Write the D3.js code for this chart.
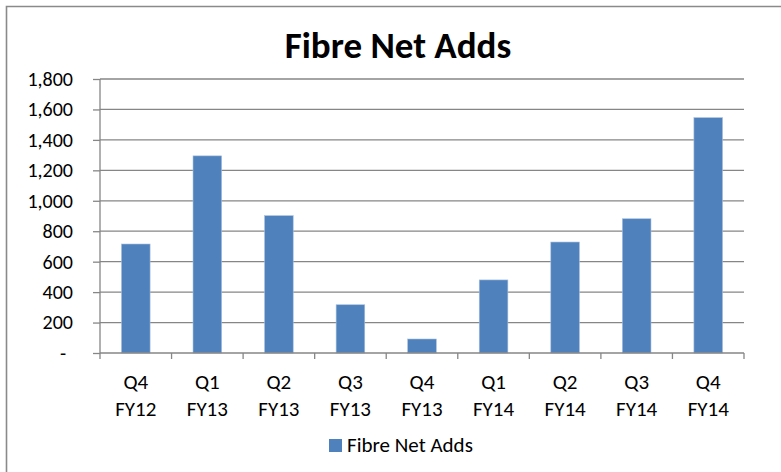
<!DOCTYPE html>
<html>
<head>
<meta charset="utf-8">
<script src="https://cdn.jsdelivr.net/npm/d3@7"></script>
<style>
  body { margin: 0; background: #fff; overflow: hidden; }
  svg { display: block; }
  text { font-family: Carlito, Lato, "Open Sans", sans-serif; fill: #000; }
</style>
</head>
<body>
<div id="chart"></div>
<script>
// chart data
var quarters = ["Q4", "Q1", "Q2", "Q3", "Q4", "Q1", "Q2", "Q3", "Q4"];
var years    = ["FY12", "FY13", "FY13", "FY13", "FY13", "FY14", "FY14", "FY14", "FY14"];
var netAdds  = [716, 1295, 902, 317, 92, 480, 729, 882, 1546];
var yTicks   = [0, 200, 400, 600, 800, 1000, 1200, 1400, 1600, 1800];
var seriesName = "Fibre Net Adds";

var categories = quarters.map(function (q, i) { return i; });

// dimensions
var global_width = 781, global_height = 472;
var margin = {top: 79, left: 100, right: 37, bottom: 119};
var width = global_width - margin.left - margin.right;
var height = global_height - margin.top - margin.bottom;
var gridColour = "#868686";
var barColour = "#4f81bd";

var svg = d3.select("#chart")
    .append("svg")
    .attr("width", global_width)
    .attr("height", global_height);

// chart area border: only the top and left edges fall inside the picture
svg.append("path")
    .attr("d", "M6.5," + global_height + "V6.5H" + global_width)
    .attr("fill", "none")
    .attr("stroke", "#8a8a8a")
    .attr("stroke-width", 1.6);

// title
svg.append("text")
    .attr("x", 398)
    .attr("y", 58)
    .attr("text-anchor", "middle")
    .attr("font-weight", "bold")
    .attr("font-size", 37)
    .text(seriesName);

var inner = svg.append("g")
    .attr("transform", "translate(" + margin.left + "," + margin.top + ")");

// scales
var x = d3.scaleBand()
    .domain(categories)
    .range([0, width])
    .paddingInner(0.6)
    .paddingOuter(0.3);

var y = d3.scaleLinear()
    .domain([0, 1800])
    .range([height, 0]);

// gridlines
inner.append("g").selectAll("line")
    .data(yTicks.slice(1))
    .enter()
    .append("line")
    .attr("x1", 0)
    .attr("x2", width)
    .attr("y1", function (d) { return y(d); })
    .attr("y2", function (d) { return y(d); })
    .attr("stroke", gridColour)
    .attr("stroke-width", 1.3);

// y axis
var yAxis = inner.append("g")
    .call(d3.axisLeft(y)
        .tickValues(yTicks)
        .tickSize(7)
        .tickPadding(20)
        .tickFormat(function (d) { return d === 0 ? "-" : d3.format(",")(d); }));
yAxis.selectAll("text")
    .attr("font-size", 20)
    .attr("font-family", null)
    .attr("dx", function (d) { return d === 0 ? -7 : 0; });
yAxis.selectAll("line, path").attr("stroke", gridColour).attr("stroke-width", 1.3);
yAxis.select(".domain").attr("d", "M0,0V" + height);

// bars
inner.append("g").selectAll("rect")
    .data(netAdds)
    .enter()
    .append("rect")
    .attr("x", function (d, i) { return x(i); })
    .attr("y", function (d) { return y(d); })
    .attr("width", x.bandwidth())
    .attr("height", function (d) { return height - y(d); })
    .attr("fill", barColour)
    .attr("stroke", "#a7bfdc")
    .attr("stroke-width", 0.6);

// x axis: ticks sit on the category boundaries
var xAxis = inner.append("g")
    .attr("transform", "translate(0," + height + ")");
xAxis.append("line")
    .attr("x1", 0)
    .attr("x2", width)
    .attr("stroke", gridColour)
    .attr("stroke-width", 1.3);
xAxis.selectAll("boundary")
    .data(d3.range(categories.length + 1))
    .enter()
    .append("line")
    .attr("x1", function (d) { return d * x.step(); })
    .attr("x2", function (d) { return d * x.step(); })
    .attr("y1", 0)
    .attr("y2", 6)
    .attr("stroke", gridColour)
    .attr("stroke-width", 1.3);

var labels = xAxis.selectAll("catLabel")
    .data(categories)
    .enter()
    .append("text")
    .attr("text-anchor", "middle")
    .attr("font-size", 21)
    .attr("x", function (d) { return x(d) + x.bandwidth() / 2; });
labels.append("tspan")
    .attr("x", function (d) { return x(d) + x.bandwidth() / 2; })
    .attr("y", 36)
    .text(function (d) { return quarters[d]; });
labels.append("tspan")
    .attr("x", function (d) { return x(d) + x.bandwidth() / 2; })
    .attr("y", 63)
    .text(function (d) { return years[d]; });

// legend
var legend = svg.append("g");
legend.append("rect")
    .attr("x", 329)
    .attr("y", 439)
    .attr("width", 13)
    .attr("height", 13)
    .attr("fill", barColour);
legend.append("text")
    .attr("x", 347)
    .attr("y", 452)
    .attr("font-size", 21)
    .text(seriesName);
</script>
</body>
</html>
